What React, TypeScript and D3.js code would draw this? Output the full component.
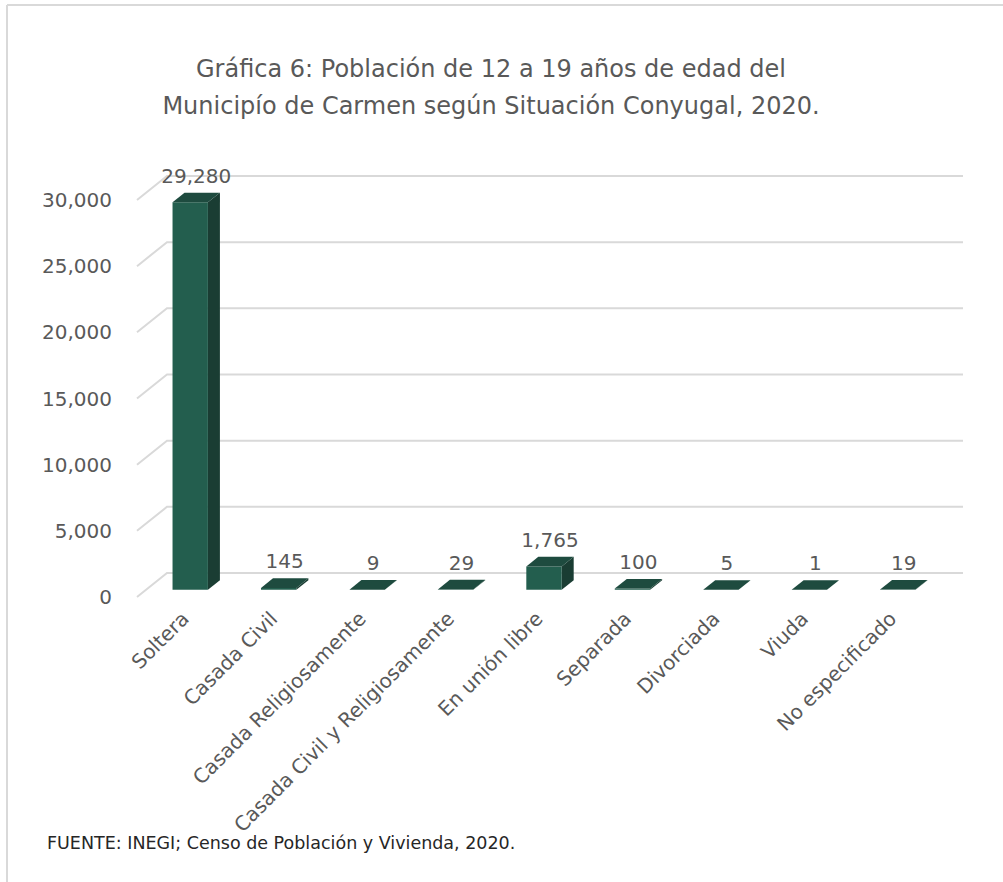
import React from "react";
import * as d3 from "d3";

const categories = [
  "Soltera",
  "Casada Civil",
  "Casada Religiosamente",
  "Casada Civil y Religiosamente",
  "En unión libre",
  "Separada",
  "Divorciada",
  "Viuda",
  "No especificado",
];
const values = [29280, 145, 9, 29, 1765, 100, 5, 1, 19];
const yTicks = [0, 5000, 10000, 15000, 20000, 25000, 30000];
const titleLines = [
  "Gráfica 6: Población de 12 a 19 años de edad del",
  "Municipío de Carmen según Situación Conyugal, 2020.",
];
const source = "FUENTE: INEGI; Censo de Población y Vivienda, 2020.";

const W = 1003;
const H = 882;
const FONT = "'DejaVu Sans', Verdana, sans-serif";
const TXT = "#595959";
const GRID = "#d9d9d9";
const DX = 30; // depth x offset
const DY = 24; // depth y offset

export default function App() {
  const x = d3.scaleBand<string>().domain(categories).range([137, 933]).paddingInner(0).paddingOuter(0);
  const y = d3.scaleLinear().domain([0, 30000]).range([597, 200]);
  const fmt = d3.format(",");
  const P = (px: number, py: number, d: number) => [px + DX * d, py - DY * d];
  const pts = (arr: number[][]) => arr.map((p) => p.join(",")).join(" ");

  const bw = x.bandwidth() * 0.4;
  const d0 = 0.3;
  const d1 = 0.7;

  return (
    <svg
      width={W}
      height={H}
      style={{ position: "absolute", left: 0, top: 0, background: "#fff" }}
      fontFamily={FONT}
    >
      <rect x={0} y={0} width={W} height={H} fill="#fff" />
      <line x1={7} y1={5} x2={W} y2={5} stroke={GRID} strokeWidth={2} />
      <line x1={7} y1={5} x2={7} y2={H} stroke={GRID} strokeWidth={2} />

      {titleLines.map((t, i) => (
        <text key={i} x={491} y={77 + i * 37} textAnchor="middle" fontSize={24} fill={TXT}>
          {t}
        </text>
      ))}

      {/* gridlines: side floor diagonal + back wall */}
      {yTicks.map((t) => {
        const a = P(137, y(t), 0);
        const b = P(137, y(t), 1);
        const c = P(933, y(t), 1);
        return (
          <g key={t}>
            <polyline points={pts([a, b, c])} fill="none" stroke={GRID} strokeWidth={2} />
            <text x={112} y={y(t) + 7} textAnchor="end" fontSize={20} fill={TXT}>
              {fmt(t)}
            </text>
          </g>
        );
      })}

      {/* bars */}
      {categories.map((c, i) => {
        const v = values[i];
        const xl = (x(c) as number) + (x.bandwidth() - bw) / 2;
        const xr = xl + bw;
        const yb = y(0);
        const yt = y(v);
        const front = [P(xl, yt, d0), P(xr, yt, d0), P(xr, yb, d0), P(xl, yb, d0)];
        const side = [P(xr, yt, d0), P(xr, yt, d1), P(xr, yb, d1), P(xr, yb, d0)];
        const top = [P(xl, yt, d0), P(xl, yt, d1), P(xr, yt, d1), P(xr, yt, d0)];
        const labelPos = P(xl + bw / 2, yt, d1);
        return (
          <g key={c}>
            <polygon points={pts(side)} fill="#1a3d33" />
            <polygon points={pts(front)} fill="#235e4e" />
            <polygon points={pts(top)} fill="#1e4b3f" />
            <text
              x={labelPos[0] - 6}
              y={labelPos[1] - 10}
              textAnchor="middle"
              fontSize={20}
              fill={TXT}
            >
              {fmt(v)}
            </text>
          </g>
        );
      })}

      {/* category labels */}
      {categories.map((c) => {
        const cx = (x(c) as number) + x.bandwidth() / 2 + 9;
        const cy = 620;
        return (
          <text
            key={c}
            transform={`translate(${cx},${cy}) rotate(-45)`}
            textAnchor="end"
            fontSize={20}
            fill={TXT}
          >
            {c}
          </text>
        );
      })}

      <text x={47} y={849} fontSize={17.5} fill="#262626">
        {source}
      </text>
    </svg>
  );
}
